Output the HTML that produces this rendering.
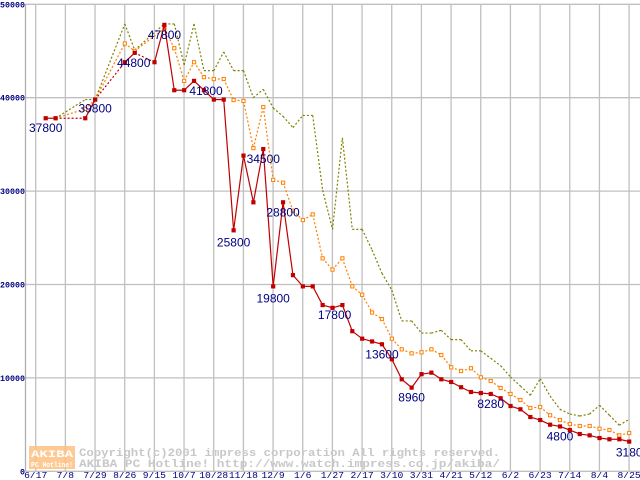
<!DOCTYPE html>
<html><head><meta charset="utf-8"><style>
body{margin:0;background:#fff;width:640px;height:480px;overflow:hidden}
svg{display:block;font-family:"Liberation Mono","DejaVu Sans Mono",monospace}
</style></head><body>
<svg id="chart" width="640" height="480" xmlns="http://www.w3.org/2000/svg"></svg>
<script>
const xTickLabels=["6/17","7/8","7/29","8/26","9/15","10/7","10/28","11/18","12/9","1/6","1/27","2/17","3/10","3/31","4/21","5/12","6/2","6/23","7/14","8/4","8/25"];
const yTicks=[0,10000,20000,30000,40000,50000];
const N=null;
const minPrice=[37800,37800,N,N,37800,39800,N,N,43800,44800,N,43800,47800,40800,40800,41800,40800,39800,39800,25800,33800,28800,34500,19800,28800,21000,19800,19800,17800,17500,17800,15000,14200,13900,13600,12000,9850,8960,10400,10560,9850,9560,9000,8490,8380,8280,7820,6990,6640,5810,5490,4990,4800,4420,3990,3850,3560,3430,3430,3180];
const avgPrice=[N,37800,N,N,38800,39800,N,N,45800,45000,N,N,47400,45300,41800,43800,42200,42000,42000,39750,39650,34600,39000,31200,30900,27900,26900,27500,22800,21600,22800,19800,18900,17000,16300,14200,13060,12630,12740,13060,12450,11130,10740,11030,10060,9670,8920,8280,7630,6780,6880,6000,5490,5060,4850,4850,4560,4420,3850,4100];
const maxPrice=[N,37800,N,N,39800,39800,N,N,47900,45100,N,N,47900,47900,43500,47900,42900,42900,44900,42900,42900,40000,40900,38900,38000,36800,38100,38100,30100,25900,35700,25900,25900,23700,21200,19400,16100,16100,14800,14800,15100,14100,14100,12900,12900,12100,11300,10100,9130,8140,9910,8060,6640,6130,5920,6130,7070,6000,4930,5570];
const labelIdx=[0,5,9,12,15,19,22,24,23,28,34,37,45,52,59];
const labelText=["37800","39800","44800","47800","41800","25800","34500","28800","19800","17800","13600","8960","8280","4800","3180"];

const svg=document.getElementById('chart');
const NS='http://www.w3.org/2000/svg';
const X0=45.7,DX=9.89,Y0=471.3,SY=0.00934;
function xs(i){return X0+DX*i;}
function ys(v){return Y0-v*SY;}
function mk(t,a){const e=document.createElementNS(NS,t);for(const k in a)e.setAttribute(k,a[k]);svg.appendChild(e);return e;}

for(let j=0;j<xTickLabels.length;j++){
 const x=xs(j*3)-10;
 const g=mk('line',{x1:x,y1:4,x2:x,y2:471,stroke:'#c0c0c0','stroke-width':1.3});
 
 
 const t=mk('text',{x:x,y:478,'font-size':9,fill:'#000080','text-anchor':'middle',textLength:xTickLabels[j].length*5.8,lengthAdjust:'spacingAndGlyphs'});
 t.textContent=xTickLabels[j];
 
 
}
for(const v of yTicks){
 const y=ys(v);
 const g=mk('line',{x1:25.5,y1:y,x2:640,y2:y,stroke:'#c0c0c0','stroke-width':1.3});
 
 
 const s=String(v);
 const t=mk('text',{x:25,y:y+3,'font-size':8,'font-weight':'bold',fill:'#000080','text-anchor':'end',textLength:s.length*5,lengthAdjust:'spacingAndGlyphs'});
 t.textContent=s;
 
 
}
const ax=mk('line',{x1:25.5,y1:4,x2:25.5,y2:471,stroke:'#b0b0b0','stroke-width':1.3});



const lg=mk('rect',{x:29,y:446,width:46,height:23,fill:'#ffc080',opacity:0.85});


const lt1=mk('text',{x:52,y:457,'font-size':10,'font-weight':'bold',fill:'#fff','text-anchor':'middle',textLength:42,lengthAdjust:'spacingAndGlyphs'});
lt1.textContent='AKIBA';


const lt2=mk('text',{x:52,y:467,'font-size':7,'font-weight':'bold',fill:'#fff','text-anchor':'middle',textLength:42,lengthAdjust:'spacingAndGlyphs'});
lt2.textContent='PC Hotline!';


const w1=mk('text',{x:79,y:456,'font-size':11,'font-weight':'bold',fill:'#c8c8c8',textLength:421,lengthAdjust:'spacingAndGlyphs'});
w1.textContent='Copyright(c)2001 impress corporation All rights reserved.';


const w2=mk('text',{x:79,y:467,'font-size':11,'font-weight':'bold',fill:'#c8c8c8',textLength:421,lengthAdjust:'spacingAndGlyphs'});
w2.textContent='AKIBA PC Hotline!  http://www.watch.impress.co.jp/akiba/';



function series(arr,color,dash,marker,name){
 let prev=-1;
 for(let i=0;i<arr.length;i++){
  if(arr[i]===null)continue;
  if(prev>=0){
   const gap=i-prev>1;
   const l=mk('line',{x1:xs(prev),y1:ys(arr[prev]),x2:xs(i),y2:ys(arr[i]),stroke:color,'stroke-width':1.2});
   if(dash||gap)l.setAttribute('stroke-dasharray','2,2');
   
   
  }
  prev=i;
 }
 if(marker){
  for(let i=0;i<arr.length;i++){
   if(arr[i]===null)continue;
   const r=mk('rect',{x:xs(i)-1.6,y:ys(arr[i])-1.6,width:3.2,height:3.2,fill:marker==='fill'?color:'#fff',stroke:color,'stroke-width':1});
   
   
  }
 }
}
series(maxPrice,'#808000',true,null,'max-price');
series(avgPrice,'#ff8000',true,'hollow','avg-price');
series(minPrice,'#c00000',false,'fill','min-price');

const off={0:[0,10],5:[0,9],9:[-1,10],12:[0,10],15:[12,10],19:[0,12],22:[0,10],24:[0,10],23:[0,12],28:[12,10],34:[0,10],37:[0,10],45:[0,10],52:[0,10],59:[0,11]};
for(let k=0;k<labelIdx.length;k++){
 const i=labelIdx[k],o=off[i]||[0,10];
 const t=mk('text',{x:xs(i)+o[0],y:ys(minPrice[i])+o[1]+4,'font-size':12,fill:'#000080','text-anchor':'middle','font-family':'"Liberation Sans",sans-serif'});
 t.textContent=labelText[k];
 
 
}
</script>
</body></html>
